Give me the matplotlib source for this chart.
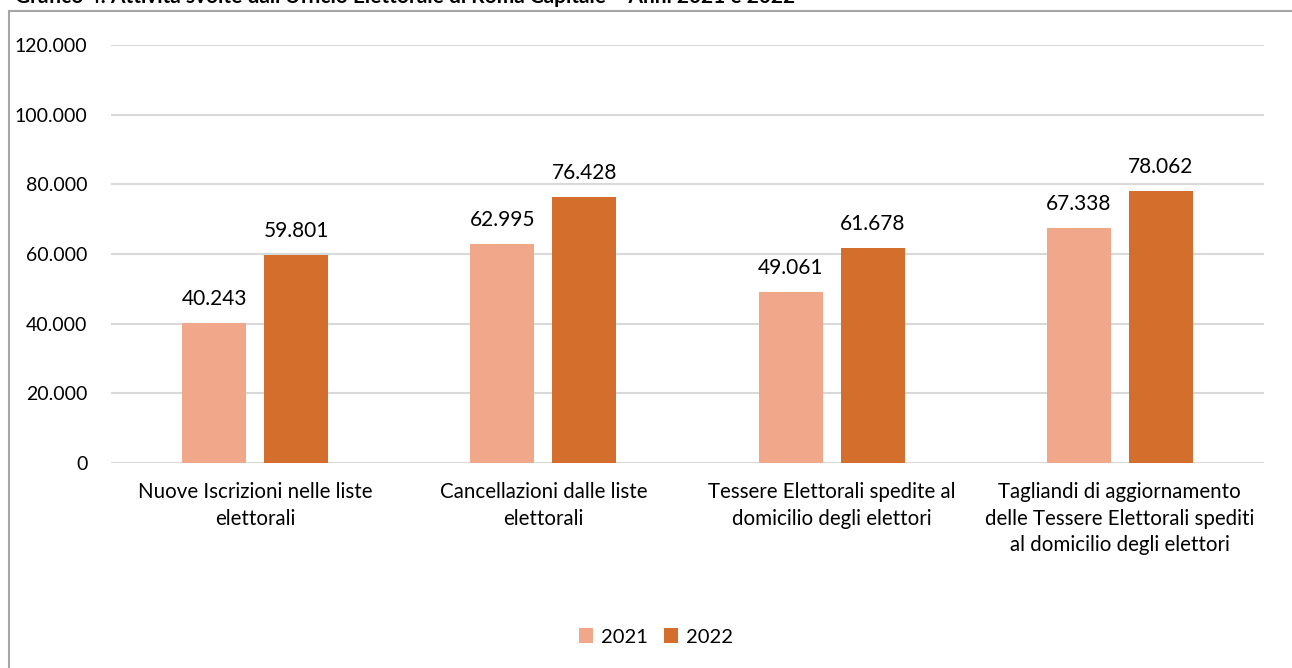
import numpy as np
import matplotlib.pyplot as plt
from matplotlib.patches import Rectangle

categorie = ['Nuove Iscrizioni nelle liste\nelettorali',
             'Cancellazioni dalle liste\nelettorali',
             'Tessere Elettorali spedite al\ndomicilio degli elettori',
             'Tagliandi di aggiornamento\ndelle Tessere Elettorali spediti\nal domicilio degli elettori']
anni = ['2021', '2022']
valori_2021 = [40243, 62995, 49061, 67338]
valori_2022 = [59801, 76428, 61678, 78062]
yticks = [0, 20000, 40000, 60000, 80000, 100000, 120000]

colori = ['#F1A78A', '#D36E2C']

plt.rcParams['font.family'] = ['Lato', 'DejaVu Sans']


def fmt(v):
    return f'{v:,}'.replace(',', '.')


fig = plt.figure(figsize=(12.92, 6.68), dpi=100)
ax = fig.add_axes([111 / 1292, 1 - 463 / 668, (1264 - 111) / 1292, (463 - 45) / 668])

x = np.arange(len(categorie))
w = 0.222
off = 0.142
for serie, col, d, lab in [(valori_2021, colori[0], -off, anni[0]),
                           (valori_2022, colori[1], off, anni[1])]:
    bars = ax.bar(x + d, serie, w, color=col, label=lab, zorder=2)
    for b, v in zip(bars, serie):
        ax.annotate(fmt(v), (b.get_x() + b.get_width() / 2, v),
                    xytext=(0, 13), textcoords='offset points',
                    ha='center', va='baseline', fontsize=15, color='#000000')

ax.set_xlim(-0.5, len(categorie) - 0.5)
ax.set_ylim(0, 120000)
ax.set_yticks(yticks)
ax.set_yticklabels([fmt(v) for v in yticks], fontsize=14)
ax.set_xticks(x)
ax.set_xticklabels(categorie, fontsize=14.8, linespacing=1.4, va='top')
ax.tick_params(length=0)
ax.tick_params(axis='y', pad=17)
ax.tick_params(axis='x', pad=14)
ax.grid(axis='y', color='#D9D9D9', linewidth=1.5, zorder=0)
for s in ax.spines.values():
    s.set_visible(False)

leg = fig.legend(loc='center', bbox_to_anchor=(656 / 1292, 1 - 637 / 668), ncol=2,
                 frameon=False, fontsize=14.5, handlelength=0.7, handleheight=0.7,
                 handletextpad=0.4, columnspacing=0.8)

# bordo esterno del grafico
fig.patches.append(Rectangle((9 / 1292, -0.1), 1.2, 1 - 11 / 668 + 0.1,
                             transform=fig.transFigure, fill=False,
                             edgecolor='#A6A6A6', linewidth=1.5))

# titolo (tagliato in alto come nell'originale)
fig.text(15 / 1292, 1 - 3 / 668,
         "Grafico 4: Attività svolte dall'Ufficio Elettorale di Roma Capitale – Anni 2021 e 2022",
         fontsize=15, fontweight='bold', va='baseline', ha='left')

fig.savefig('out.png', dpi=100)
